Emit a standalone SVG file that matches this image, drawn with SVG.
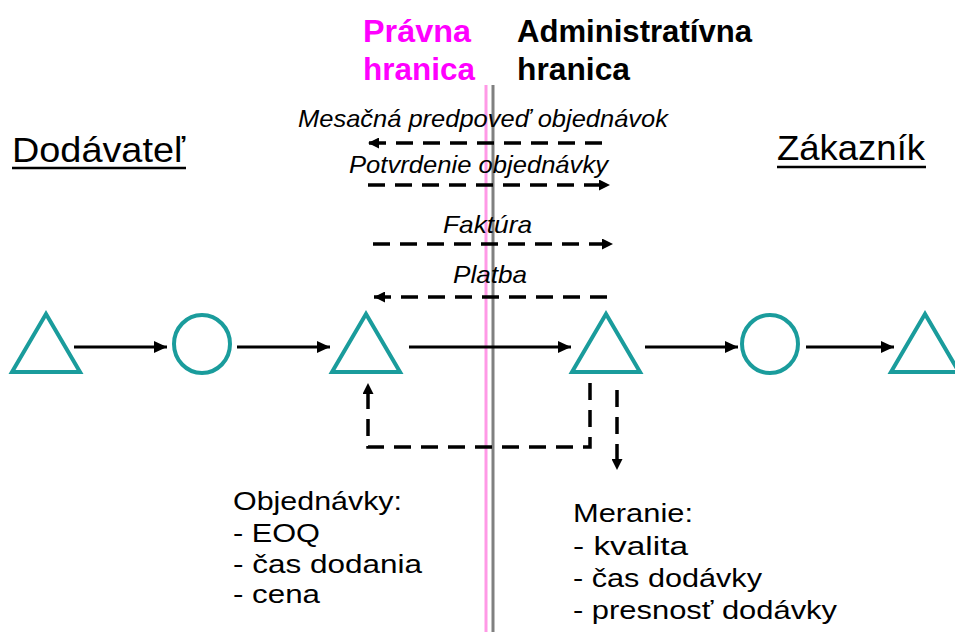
<svg xmlns="http://www.w3.org/2000/svg" width="955" height="632" viewBox="0 0 955 632">
<style>
.bd{font-family:"Liberation Sans",Arial,sans-serif;font-weight:bold;font-size:31px}
.hd{font-family:"Liberation Sans",Arial,sans-serif;font-size:35px;fill:#000}
.it{font-family:"Liberation Sans",Arial,sans-serif;font-style:italic;font-size:24px;fill:#000}
.tx{font-family:"Liberation Sans",Arial,sans-serif;font-size:25px;fill:#000}
.node{fill:none;stroke:#1a9c9c;stroke-width:4;stroke-linejoin:miter}
.sol{stroke:#000;stroke-width:3;fill:none}
.dsh{stroke:#000;stroke-width:3.5;fill:none;stroke-dasharray:17 10}
</style>
<defs>
<marker id="ah" markerUnits="userSpaceOnUse" markerWidth="13" markerHeight="12" refX="13" refY="6" orient="auto">
<path d="M0,0 L13,6 L0,12 z" fill="#000"/>
</marker>
<marker id="ad" markerUnits="userSpaceOnUse" markerWidth="11" markerHeight="11" refX="11" refY="5.5" orient="auto">
<path d="M0,0 L11,5.5 L0,11 z" fill="#000"/>
</marker>
</defs>
<rect width="955" height="632" fill="#fff"/>

<g id="boundaries">
<line x1="486" y1="85" x2="486" y2="632" stroke="#ff99e6" stroke-width="3"/>
<line x1="493" y1="85" x2="493" y2="632" stroke="#808080" stroke-width="3"/>
</g>

<g id="labels">
<text class="bd" fill="#ff00ff" x="363" y="42" textLength="108" lengthAdjust="spacingAndGlyphs">Právna</text>
<text class="bd" fill="#ff00ff" x="363" y="80" textLength="112" lengthAdjust="spacingAndGlyphs">hranica</text>
<text class="bd" fill="#000" x="517" y="42" textLength="235" lengthAdjust="spacingAndGlyphs">Administratívna</text>
<text class="bd" fill="#000" x="517" y="80" textLength="113" lengthAdjust="spacingAndGlyphs">hranica</text>
<text class="hd" x="12" y="162" textLength="173" lengthAdjust="spacingAndGlyphs">Dodávateľ</text>
<line x1="12" y1="168" x2="186" y2="168" stroke="#000" stroke-width="2.5"/>
<text class="hd" x="777" y="160" textLength="148" lengthAdjust="spacingAndGlyphs">Zákazník</text>
<line x1="777" y1="167" x2="926" y2="167" stroke="#000" stroke-width="2.5"/>
</g>

<g id="n1"><polygon class="node" points="46,314 12,372 80,372"/></g>
<g id="n2"><ellipse class="node" cx="202" cy="344" rx="28" ry="29"/></g>
<g id="n3"><polygon class="node" points="366,314 332,372 400,372"/></g>
<g id="n4"><polygon class="node" points="606,314 572,372 640,372"/></g>
<g id="n5"><ellipse class="node" cx="770" cy="344" rx="28" ry="29"/></g>
<g id="n6"><polygon class="node" points="925,314 891,372 959,372"/></g>

<g id="connectors">
<line class="sol" x1="74" y1="347" x2="167" y2="347" marker-end="url(#ah)"/>
<line class="sol" x1="237" y1="347" x2="330" y2="347" marker-end="url(#ah)"/>
<line class="sol" x1="409" y1="347" x2="571" y2="347" marker-end="url(#ah)"/>
<line class="sol" x1="645" y1="347" x2="738" y2="347" marker-end="url(#ah)"/>
<line class="sol" x1="806" y1="347" x2="894" y2="347" marker-end="url(#ah)"/>

<line class="dsh" x1="602" y1="143" x2="368" y2="143" marker-end="url(#ad)"/>
<line class="dsh" x1="368" y1="185" x2="610" y2="185" marker-end="url(#ad)"/>
<line class="dsh" x1="373" y1="244" x2="613" y2="244" marker-end="url(#ad)"/>
<line class="dsh" x1="607" y1="297" x2="374" y2="297" marker-end="url(#ad)"/>

<path class="dsh" d="M590,383 V447 H368 V383" stroke-dasharray="17 10" marker-end="url(#ad)"/>
<line class="dsh" x1="617" y1="390" x2="617" y2="470" marker-end="url(#ad)"/>
</g>

<g id="flow-labels">
<text class="it" x="298" y="127" textLength="370" lengthAdjust="spacingAndGlyphs">Mesačná predpoveď objednávok</text>
<text class="it" x="349" y="173" textLength="259" lengthAdjust="spacingAndGlyphs">Potvrdenie objednávky</text>
<text class="it" x="443" y="233" textLength="89" lengthAdjust="spacingAndGlyphs">Faktúra</text>
<text class="it" x="453" y="283" textLength="74" lengthAdjust="spacingAndGlyphs">Platba</text>
</g>

<g id="notes">
<text class="tx" x="233" y="510" textLength="169" lengthAdjust="spacingAndGlyphs">Objednávky:</text>
<text class="tx" x="233" y="542" textLength="87" lengthAdjust="spacingAndGlyphs">- EOQ</text>
<text class="tx" x="233" y="573" textLength="189" lengthAdjust="spacingAndGlyphs">- čas dodania</text>
<text class="tx" x="233" y="603" textLength="87" lengthAdjust="spacingAndGlyphs">- cena</text>
<text class="tx" x="573" y="522" textLength="120" lengthAdjust="spacingAndGlyphs">Meranie:</text>
<text class="tx" x="573" y="555" textLength="115" lengthAdjust="spacingAndGlyphs">- kvalita</text>
<text class="tx" x="573" y="587" textLength="189" lengthAdjust="spacingAndGlyphs">- čas dodávky</text>
<text class="tx" x="573" y="619" textLength="264" lengthAdjust="spacingAndGlyphs">- presnosť dodávky</text>
</g>
</svg>
